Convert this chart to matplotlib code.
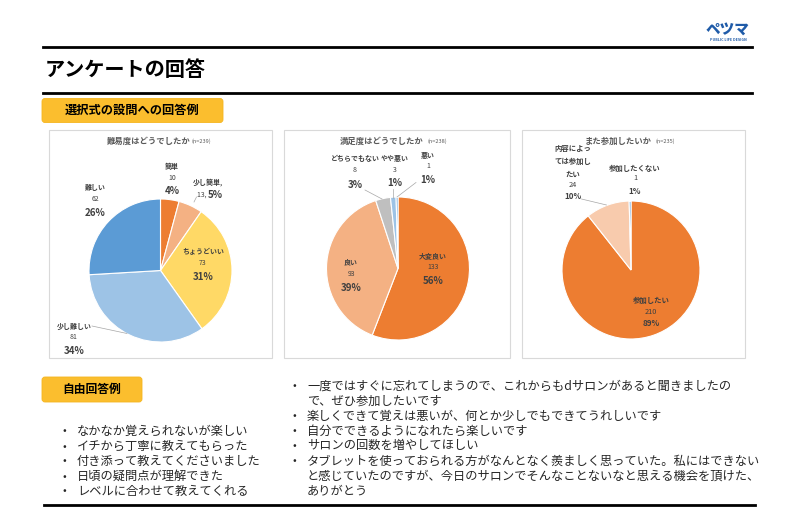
import matplotlib
matplotlib.use("Agg")
import matplotlib.pyplot as plt
from matplotlib.patches import FancyBboxPatch, Rectangle

plt.rcParams['font.family'] = ['Noto Sans CJK JP', 'DejaVu Sans']

W, H = 800, 514

# ---- data ----
pie1_title = "難易度はどうでしたか"
pie1_n = "(n=239)"
pie1_labels = ["簡単", "少し簡単", "ちょうどいい", "少し難しい", "難しい"]
pie1_values = [10, 13, 73, 81, 62]
pie1_pct = [4, 5, 31, 34, 26]
pie1_colors = ["#ED7D31", "#F4B183", "#FFD966", "#9DC3E6", "#5B9BD5"]

pie2_title = "満足度はどうでしたか"
pie2_n = "(n=238)"
pie2_labels = ["大変良い", "良い", "どちらでもない", "やや悪い", "悪い"]
pie2_values = [133, 93, 8, 3, 1]
pie2_pct = [56, 39, 3, 1, 1]
pie2_colors = ["#ED7D31", "#F4B183", "#BFBFBF", "#9DC3E6", "#5B9BD5"]

pie3_title = "また参加したいか"
pie3_n = "(n=235)"
pie3_labels = ["参加したい", "内容によっ\nては参加し\nたい", "参加したくない"]
pie3_values = [210, 24, 1]
pie3_pct = [89, 10, 1]
pie3_colors = ["#ED7D31", "#F8CBAD", "#5B9BD5"]

left_comments = [
    "なかなか覚えられないが楽しい",
    "イチから丁寧に教えてもらった",
    "付き添って教えてくださいました",
    "日頃の疑問点が理解できた",
    "レベルに合わせて教えてくれる",
]
right_comments = [
    "一度ではすぐに忘れてしまうので、これからもdサロンがあると聞きましたの\nで、ぜひ参加したいです",
    "楽しくできて覚えは悪いが、何とか少しでもできてうれしいです",
    "自分でできるようになれたら楽しいです",
    "サロンの回数を増やしてほしい",
    "タブレットを使っておられる方がなんとなく羨ましく思っていた。私にはできない\nと感じていたのですが、今日のサロンでそんなことないなと思える機会を頂けた、\nありがとう",
]

fig = plt.figure(figsize=(W / 100, H / 100), dpi=100)
fig.patch.set_facecolor("white")
bg = fig.add_axes([0, 0, 1, 1])
bg.set_xlim(0, W)
bg.set_ylim(H, 0)
bg.axis("off")

TXT = "#404040"

# header
bg.plot([43, 752], [46.5, 46.5], color="black", lw=2)
bg.plot([43, 752], [92.7, 92.7], color="black", lw=2)
bg.text(45, 70, "アンケートの回答", fontsize=14.5, fontweight="bold",
        ha="left", va="center", color="black")
bg.text(728, 29, "ペツマ", fontsize=10.5, fontweight="heavy", style="italic",
        ha="center", va="center", color="#1F5BA8")
bg.text(728, 40, "PUBLIC LIFE DESIGN", fontsize=2.6, fontweight="bold",
        ha="center", va="center", color="#1F5BA8")


def yellow_box(x0, y0, x1, y1, text, fs):
    bg.add_patch(FancyBboxPatch((x0, y0), x1 - x0, y1 - y0,
                                boxstyle="round,pad=0,rounding_size=3",
                                fc="#FBBE2E", ec="#F5B51E", lw=0.6))
    bg.text((x0 + x1) / 2, (y0 + y1) / 2, text, fontsize=fs, fontweight="bold",
            ha="center", va="center", color="black")


yellow_box(42, 98.5, 223, 122.5, "選択式の設問への回答例", 8.8)
yellow_box(42, 377, 142, 402, "自由回答例", 8.5)

# panels
for x0, x1 in [(49, 272), (284, 510), (522, 745)]:
    bg.add_patch(Rectangle((x0, 130), x1 - x0, 228, fc="white", ec="#D9D9D9", lw=0.8))


def pie_axes(cx, cy, r, values, colors):
    ax = fig.add_axes([(cx - r) / W, 1 - (cy + r) / H, 2 * r / W, 2 * r / H])
    ax.pie(values, colors=colors, startangle=90, counterclock=False, radius=1,
           wedgeprops=dict(edgecolor="white", linewidth=0.8))
    ax.set_xlim(-1, 1)
    ax.set_ylim(-1, 1)
    ax.set_aspect("equal")
    return ax


pie_axes(160.5, 270.5, 71.5, pie1_values, pie1_colors)
pie_axes(398, 268.5, 71.5, pie2_values, pie2_colors)
pie_axes(631, 270, 69, pie3_values, pie3_colors)

# overlay for labels on top of the pies
ov = fig.add_axes([0, 0, 1, 1])
ov.set_xlim(0, W)
ov.set_ylim(H, 0)
ov.axis("off")
ov.patch.set_alpha(0)


def titles(cx, x_n, title, n):
    ov.text(cx, 141, title, fontsize=6, fontweight="bold", ha="center", va="center", color="#595959")
    ov.text(x_n, 141.5, n, fontsize=4, ha="left", va="center", color="#595959")


titles(148.3, 191.5, pie1_title, pie1_n)
titles(381.7, 427, pie2_title, pie2_n)
titles(618, 655, pie3_title, pie3_n)


def block(x, y, name, value, pct, name_fs=5, pct_fs=7, dy_name=-11.5, dy_pct=13.5):
    ov.text(x, y + dy_name, name, fontsize=name_fs, fontweight="bold", ha="center",
            va="center", color=TXT, linespacing=1.9)
    ov.text(x, y, str(value), fontsize=name_fs, ha="center", va="center", color=TXT)
    ov.text(x, y + dy_pct, f"{pct}%", fontsize=pct_fs, fontweight="bold",
            ha="center", va="center", color=TXT)


def leader(xs, ys):
    ov.plot(xs, ys, color="#A6A6A6", lw=0.5)


# pie 1 labels
block(172, 178, pie1_labels[0], pie1_values[0], pie1_pct[0])
ov.text(208, 182, pie1_labels[1] + ",", fontsize=5, fontweight="bold", ha="center", va="center", color=TXT)
ov.text(208, 195, f"{pie1_values[1]}, ", fontsize=5, ha="right", va="center", color=TXT)
ov.text(208, 195, f"{pie1_pct[1]}%", fontsize=7, fontweight="bold", ha="left", va="center", color=TXT)
block(203, 263, pie1_labels[2], pie1_values[2], pie1_pct[2])
block(74, 337, pie1_labels[3], pie1_values[3], pie1_pct[3], dy_name=-10.5, dy_pct=14.5)
block(95, 199, pie1_labels[4], pie1_values[4], pie1_pct[4])
leader([92, 127], [326, 333.5])
leader([196.5, 194], [197, 202])

# pie 2 labels
block(433, 267, pie2_labels[0], pie2_values[0], pie2_pct[0])
block(351, 273.5, pie2_labels[1], pie2_values[1], pie2_pct[1], dy_name=-12, dy_pct=14.5)
block(355, 169.5, pie2_labels[2], pie2_values[2], pie2_pct[2], dy_name=-11, dy_pct=15)
block(395, 169.5, pie2_labels[3], pie2_values[3], pie2_pct[3], dy_name=-11, dy_pct=13)
block(428, 166.5, pie2_labels[4], pie2_values[4], pie2_pct[4], dy_name=-11, dy_pct=13.5)
leader([365, 382], [190, 199])
leader([393.3, 393.3], [188.5, 197.5])
leader([416, 397], [182.5, 197])

# pie 3 labels
block(651, 312, pie3_labels[0], pie3_values[0], pie3_pct[0], name_fs=5.3, pct_fs=5.8,
      dy_name=-11.5, dy_pct=11.5)
block(573, 185, pie3_labels[1], pie3_values[1], pie3_pct[1], name_fs=5.3, pct_fs=5.8,
      dy_name=-23.5, dy_pct=11.5)
block(635, 178.5, pie3_labels[2], pie3_values[2], pie3_pct[2], name_fs=5.3, pct_fs=5.8,
      dy_name=-10, dy_pct=13)
leader([581.5, 606.5], [199, 205])

# free comments
FS = 8.8
LH = 15.0
y = 431.5
for c in left_comments:
    ov.text(64, y, "•", fontsize=8, ha="center", va="center", color="#262626")
    ov.text(77, y, c, fontsize=FS, ha="left", va="center", color="#262626")
    y += LH

y = 386
for c in right_comments:
    ov.text(294, y, "•", fontsize=8, ha="center", va="center", color="#262626")
    for line in c.split("\n"):
        ov.text(307, y, line, fontsize=FS, ha="left", va="center", color="#262626")
        y += LH

ov.plot([44, 755], [505, 505], color="black", lw=2)

fig.savefig("out.png", dpi=100)
